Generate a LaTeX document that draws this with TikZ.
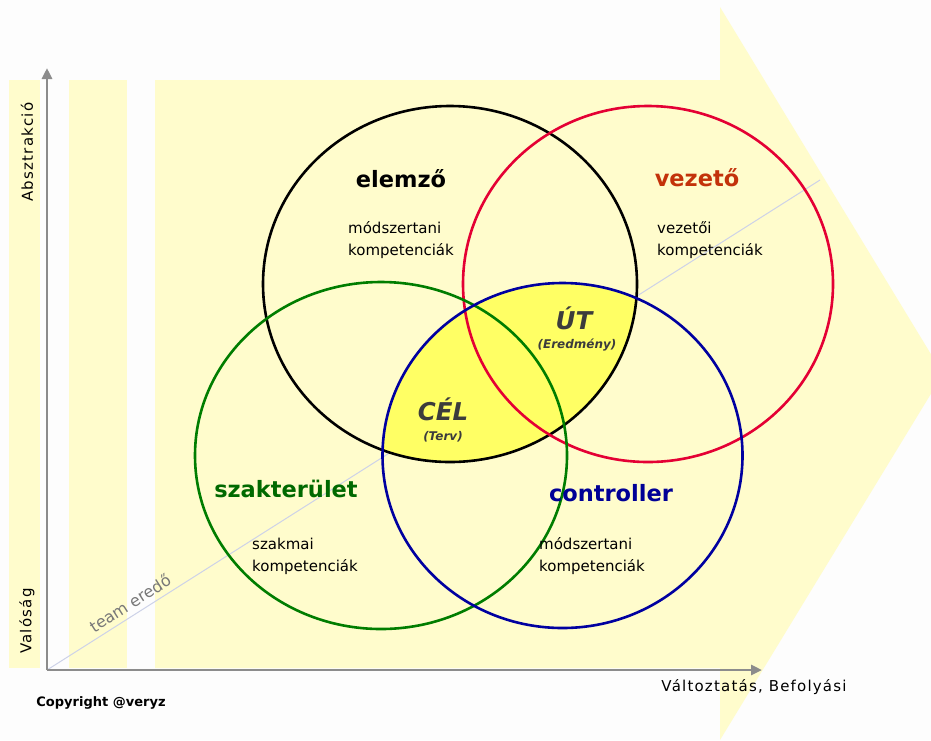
\documentclass[tikz,border=0pt]{standalone}
\usepackage{fontspec}
\setmainfont{DejaVu Sans}
\newfontfamily\spacedsans[LetterSpace=8]{DejaVu Sans}
\usetikzlibrary{arrows.meta}

\definecolor{paper}{RGB}{253,253,253}
\definecolor{pale}{RGB}{255,252,204}
\definecolor{lensfill}{RGB}{255,255,100}
\definecolor{axisgray}{RGB}{140,140,140}
\definecolor{diagline}{RGB}{205,210,232}
\definecolor{ringred}{RGB}{228,0,52}
\definecolor{ringgreen}{RGB}{0,125,0}
\definecolor{ringblue}{RGB}{0,0,160}
\definecolor{titleorange}{RGB}{195,50,10}
\definecolor{titlegreen}{RGB}{0,105,0}
\definecolor{titleblue}{RGB}{0,0,150}
\definecolor{lenstext}{RGB}{60,60,60}
\definecolor{labelgray}{RGB}{120,120,120}

\begin{document}
\begin{tikzpicture}[x=1pt,y=-1pt,
  ring/.style={line width=2.6pt},
  axisline/.style={axisgray, line width=2.8pt, -{Triangle[length=11pt,width=10pt]}},
  ringtitle/.style={inner sep=0pt, font=\fontsize{22.5}{24}\selectfont\bfseries},
  bodytext/.style={inner sep=0pt, anchor=west, align=left, font=\fontsize{15}{22}\selectfont},
  lensbig/.style={inner sep=0pt, text=lenstext, font=\fontsize{24.5}{26}\selectfont\bfseries\itshape},
  lenssmall/.style={inner sep=0pt, text=lenstext, font=\fontsize{12}{13}\selectfont\bfseries\itshape},
  axislabel/.style={inner sep=0pt, font=\fontsize{15}{16}\selectfont\spacedsans},
]
\useasboundingbox (0,0) rectangle (931,740);
\clip (0,0) rectangle (931,740);
\fill[paper] (0,0) rectangle (931,740);

% pale bands and the large arrow behind the diagram
\fill[pale] (9,80) rectangle (40,668);
\fill[pale] (69,80) rectangle (127,668);
\fill[pale] (155,80) -- (720,80) -- (720,7) -- (943,374) -- (720,740)
  -- (720,668) -- (155,668) -- cycle;

% team direction line
\coordinate (O) at (47,670);
\coordinate (diagend) at (820,180);
\draw[diagline, line width=1pt] (O) -- (diagend);
\node[inner sep=0pt, text=labelgray, rotate=32.4, font=\fontsize{16}{17}\selectfont]
  (team) at (130,603) {team eredő};

% axes
\coordinate (ytop) at (47,68);
\coordinate (xend) at (762,670);
\draw[axisline] (O) -- (ytop);
\draw[axisline] (O) -- (xend);

% ring centres
\coordinate (cblack) at (450,284);
\coordinate (cred) at (648,284);
\coordinate (cgreen) at (381,455.5);
\coordinate (cblue) at (562.5,455.5);

% overlap of the black and blue rings
\begin{scope}
  \clip (cblack) ellipse [x radius=187pt, y radius=178pt];
  \fill[lensfill] (cblue) ellipse [x radius=180pt, y radius=172.5pt];
\end{scope}

% rings
\draw[ring, black] (cblack) ellipse [x radius=187pt, y radius=178pt];
\draw[ring, ringred] (cred) ellipse [x radius=185pt, y radius=178pt];
\draw[ring, ringgreen] (cgreen) ellipse [x radius=186pt, y radius=173.5pt];
\draw[ring, ringblue] (cblue) ellipse [x radius=180pt, y radius=172.5pt];

% ring titles and descriptions
\node[ringtitle, text=black] (elemzo) at (401,179) {elemző};
\node[bodytext] (elemzotext) at (348,240) {módszertani\\kompetenciák};

\node[ringtitle, text=titleorange] (vezeto) at (697,178) {vezető};
\node[bodytext] (vezetotext) at (657,240) {vezetői\\kompetenciák};

\node[ringtitle, text=titlegreen] (szakterulet) at (286,489) {szakterület};
\node[bodytext] (szaktext) at (252,556) {szakmai\\kompetenciák};

\node[ringtitle, text=titleblue] (controller) at (611,493) {controller};
\node[bodytext] (controllertext) at (539,556) {módszertani\\kompetenciák};

% labels inside the overlap
\node[lensbig] (ut) at (574,318) {ÚT};
\node[lenssmall] (eredmeny) at (577,345) {(Eredmény)};
\node[lensbig] (cel) at (443,409) {CÉL};
\node[lenssmall] (terv) at (443,437) {(Terv)};

% axis labels
\node[axislabel, rotate=90] (absztrakcio) at (27,152) {Absztrakció};
\node[axislabel, rotate=90] (valosag) at (27,621) {Valóság};
\node[axislabel] (valtoztatas) at (754,687) {Változtatás, Befolyási};

\node[inner sep=0pt, font=\fontsize{13}{14}\selectfont\bfseries] (copyright)
  at (101,703) {Copyright @veryz};
\end{tikzpicture}
\end{document}
